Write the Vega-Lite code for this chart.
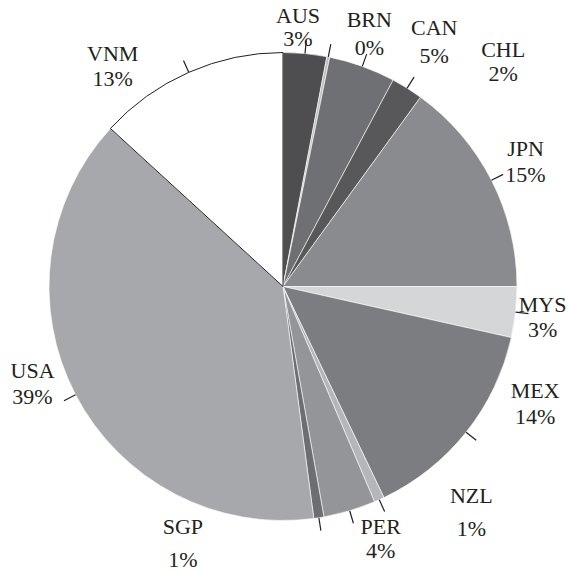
{
  "$schema": "https://vega.github.io/schema/vega-lite/v6.json",
  "width": 566,
  "height": 569,
  "autosize": {"type": "none"},
  "padding": {"left": 0, "top": 2, "right": 2, "bottom": 0},
  "background": "#ffffff",
  "config": {"view": {"stroke": null}},
  "data": {
    "values": [
      {"order": 1, "country": "AUS", "value": 3.0, "pct": 3},
      {"order": 2, "country": "BRN", "value": 0.2, "pct": 0},
      {"order": 3, "country": "CAN", "value": 4.6, "pct": 5},
      {"order": 4, "country": "CHL", "value": 2.2, "pct": 2},
      {"order": 5, "country": "JPN", "value": 15.0, "pct": 15},
      {"order": 6, "country": "MYS", "value": 3.5, "pct": 3},
      {"order": 7, "country": "MEX", "value": 14.4, "pct": 14},
      {"order": 8, "country": "NZL", "value": 0.7, "pct": 1},
      {"order": 9, "country": "PER", "value": 3.6, "pct": 4},
      {"order": 10, "country": "SGP", "value": 0.7, "pct": 1},
      {"order": 11, "country": "USA", "value": 38.9, "pct": 39},
      {"order": 12, "country": "VNM", "value": 13.2, "pct": 13}
    ]
  },
  "transform": [
    {"window": [{"op": "sum", "field": "value", "as": "cum"}], "sort": [{"field": "order", "order": "ascending"}], "frame": [null, 0]},
    {"calculate": "datum.cum - datum.value", "as": "start"},
    {"calculate": "datum.cum - datum.value / 2", "as": "mid"},
    {"calculate": "datum.country + '\\n' + datum.pct + '%'", "as": "label"}
  ],
  "layer": [
    {
      "mark": {"type": "arc", "radius": 234},
      "encoding": {
        "theta": {"field": "start", "type": "quantitative", "stack": null, "scale": {"domain": [0, 100]}},
        "theta2": {"field": "cum"},
        "color": {
          "field": "country", "type": "nominal", "legend": null,
          "scale": {
            "domain": ["AUS", "BRN", "CAN", "CHL", "JPN", "MYS", "MEX", "NZL", "PER", "SGP", "USA", "VNM"],
            "range": ["#4e4e50", "#bcbec0", "#6f7073", "#58585a", "#8a8b8e", "#d5d6d8", "#7c7d80", "#b5b6b9", "#939598", "#6d6e71", "#a6a8ab", "#ffffff"]
          }
        },
        "stroke": {"condition": {"test": "datum.country === 'VNM'", "value": "#231f20"}, "value": "#ffffff"},
        "strokeWidth": {"condition": {"test": "datum.country === 'VNM'", "value": 1}, "value": 0.6}
      }
    },
    {
      "mark": {"type": "arc", "radius": 234, "radius2": 247, "fill": null, "stroke": "#231f20", "strokeWidth": 1.2},
      "encoding": {
        "theta": {"field": "mid", "type": "quantitative", "stack": null, "scale": {"domain": [0, 100]}},
        "theta2": {"field": "mid"}
      }
    },
    {
      "transform": [{"filter": "datum.country === 'AUS'"}],
      "mark": {"type": "text", "radius": 234, "font": "Liberation Serif", "fontSize": 22, "color": "#231f20", "align": "center", "baseline": "middle", "lineBreak": "\n", "lineHeight": 23, "dx": -7, "dy": -37.5},
      "encoding": {"theta": {"field": "mid", "type": "quantitative", "stack": null, "scale": {"domain": [0, 100]}}, "text": {"field": "label"}}
    },
    {
      "transform": [{"filter": "datum.country === 'BRN'"}],
      "mark": {"type": "text", "radius": 234, "font": "Liberation Serif", "fontSize": 22, "color": "#231f20", "align": "center", "baseline": "middle", "lineBreak": "\n", "lineHeight": 28, "dx": 41, "dy": -37},
      "encoding": {"theta": {"field": "mid", "type": "quantitative", "stack": null, "scale": {"domain": [0, 100]}}, "text": {"field": "label"}}
    },
    {
      "transform": [{"filter": "datum.country === 'CAN'"}],
      "mark": {"type": "text", "radius": 234, "font": "Liberation Serif", "fontSize": 22, "color": "#231f20", "align": "center", "baseline": "middle", "lineBreak": "\n", "lineHeight": 28, "dx": 72, "dy": -38},
      "encoding": {"theta": {"field": "mid", "type": "quantitative", "stack": null, "scale": {"domain": [0, 100]}}, "text": {"field": "label"}}
    },
    {
      "transform": [{"filter": "datum.country === 'CHL'"}],
      "mark": {"type": "text", "radius": 234, "font": "Liberation Serif", "fontSize": 22, "color": "#231f20", "align": "center", "baseline": "middle", "lineBreak": "\n", "lineHeight": 24, "dx": 96, "dy": -38},
      "encoding": {"theta": {"field": "mid", "type": "quantitative", "stack": null, "scale": {"domain": [0, 100]}}, "text": {"field": "label"}}
    },
    {
      "transform": [{"filter": "datum.country === 'JPN'"}],
      "mark": {"type": "text", "radius": 234, "font": "Liberation Serif", "fontSize": 22, "color": "#231f20", "align": "center", "baseline": "middle", "lineBreak": "\n", "lineHeight": 26, "dx": 34, "dy": -31},
      "encoding": {"theta": {"field": "mid", "type": "quantitative", "stack": null, "scale": {"domain": [0, 100]}}, "text": {"field": "label"}}
    },
    {
      "transform": [{"filter": "datum.country === 'MYS'"}],
      "mark": {"type": "text", "radius": 234, "font": "Liberation Serif", "fontSize": 22, "color": "#231f20", "align": "center", "baseline": "middle", "lineBreak": "\n", "lineHeight": 25, "dx": 27, "dy": -7.5},
      "encoding": {"theta": {"field": "mid", "type": "quantitative", "stack": null, "scale": {"domain": [0, 100]}}, "text": {"field": "label"}}
    },
    {
      "transform": [{"filter": "datum.country === 'MEX'"}],
      "mark": {"type": "text", "radius": 234, "font": "Liberation Serif", "fontSize": 22, "color": "#231f20", "align": "center", "baseline": "middle", "lineBreak": "\n", "lineHeight": 26, "dx": 69, "dy": -41},
      "encoding": {"theta": {"field": "mid", "type": "quantitative", "stack": null, "scale": {"domain": [0, 100]}}, "text": {"field": "label"}}
    },
    {
      "transform": [{"filter": "datum.country === 'NZL'"}],
      "mark": {"type": "text", "radius": 234, "font": "Liberation Serif", "fontSize": 22, "color": "#231f20", "align": "center", "baseline": "middle", "lineBreak": "\n", "lineHeight": 33, "dx": 92, "dy": -3.5},
      "encoding": {"theta": {"field": "mid", "type": "quantitative", "stack": null, "scale": {"domain": [0, 100]}}, "text": {"field": "label"}}
    },
    {
      "transform": [{"filter": "datum.country === 'PER'"}],
      "mark": {"type": "text", "radius": 234, "font": "Liberation Serif", "fontSize": 22, "color": "#231f20", "align": "center", "baseline": "middle", "lineBreak": "\n", "lineHeight": 24, "dx": 31, "dy": 16},
      "encoding": {"theta": {"field": "mid", "type": "quantitative", "stack": null, "scale": {"domain": [0, 100]}}, "text": {"field": "label"}}
    },
    {
      "transform": [{"filter": "datum.country === 'SGP'"}],
      "mark": {"type": "text", "radius": 234, "font": "Liberation Serif", "fontSize": 22, "color": "#231f20", "align": "center", "baseline": "middle", "lineBreak": "\n", "lineHeight": 33, "dx": -136, "dy": 9.5},
      "encoding": {"theta": {"field": "mid", "type": "quantitative", "stack": null, "scale": {"domain": [0, 100]}}, "text": {"field": "label"}}
    },
    {
      "transform": [{"filter": "datum.country === 'USA'"}],
      "mark": {"type": "text", "radius": 234, "font": "Liberation Serif", "fontSize": 22, "color": "#231f20", "align": "center", "baseline": "middle", "lineBreak": "\n", "lineHeight": 26, "dx": -43, "dy": -24},
      "encoding": {"theta": {"field": "mid", "type": "quantitative", "stack": null, "scale": {"domain": [0, 100]}}, "text": {"field": "label"}}
    },
    {
      "transform": [{"filter": "datum.country === 'VNM'"}],
      "mark": {"type": "text", "radius": 234, "font": "Liberation Serif", "fontSize": 22, "color": "#231f20", "align": "center", "baseline": "middle", "lineBreak": "\n", "lineHeight": 25, "dx": -76, "dy": -18.5},
      "encoding": {"theta": {"field": "mid", "type": "quantitative", "stack": null, "scale": {"domain": [0, 100]}}, "text": {"field": "label"}}
    }
  ]
}
